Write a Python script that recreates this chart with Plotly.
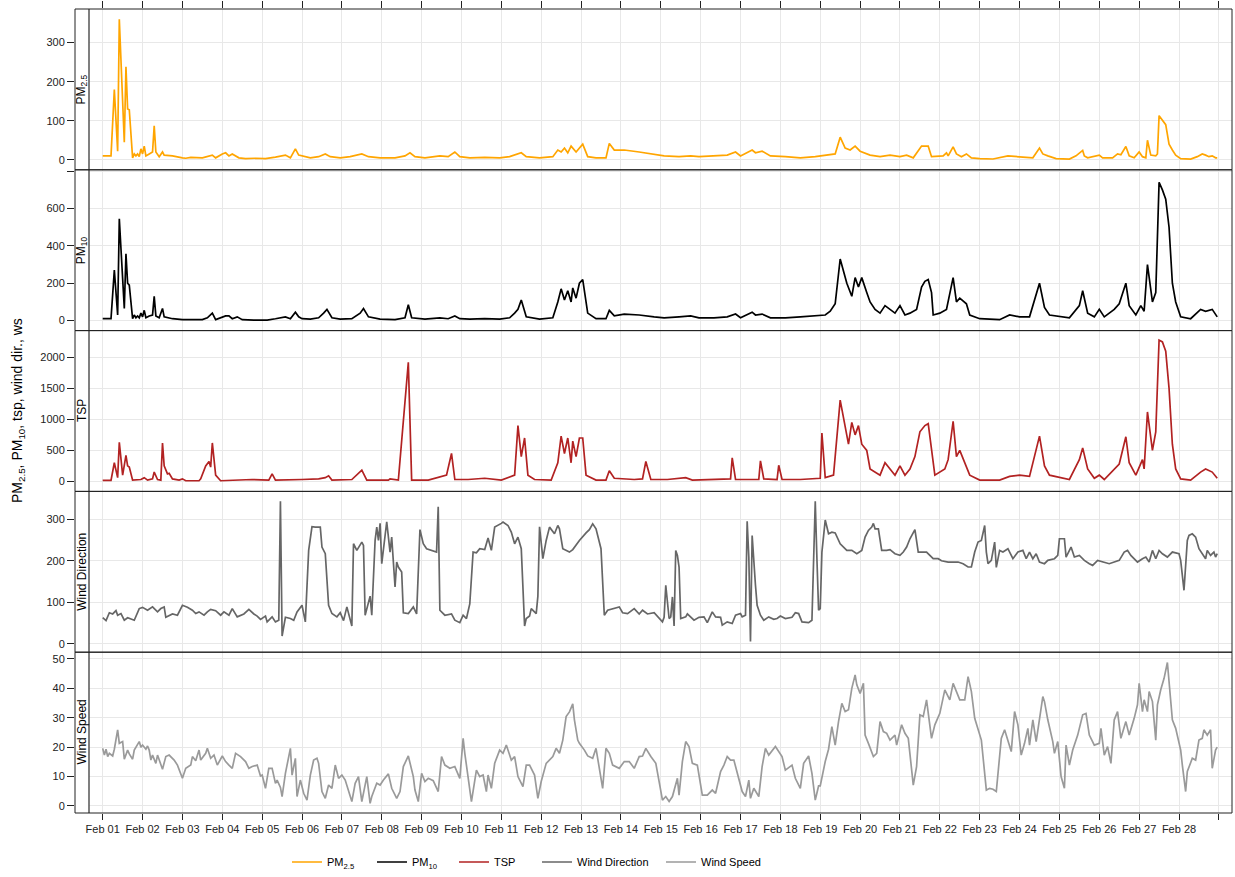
import pandas as pd
import plotly.graph_objects as go
from plotly.subplots import make_subplots

# ---------------- data: [hour since 2019-02-01 00:00, value] ----------------
pm25_obs = [[0,10],[5,10],[7,180],[9,22],[10,360],[13,45],[14,238],[15,130],[16,128],[18,5],[19,15],[20,10],[21,15],[22,8],[23,28],[24,15],[25,35],[26,10],[28,15],[30,20],[31,87],[32,20],[34,8],[36,20],[37,12],[42,10],[48,5],[50,4],[53,6],[56,5],[60,5],[66,12],[68,5],[72,15],[74,18],[76,10],[78,15],[82,5],[86,3],[92,4],[98,3],[104,7],[110,12],[113,5],[116,28],[118,12],
[120,10],[125,5],[130,8],[134,15],[137,8],[143,5],[149,8],[156,15],[160,8],[167,5],[176,5],[182,10],[185,18],[188,8],[194,5],[203,10],[208,8],[212,20],[215,8],[221,5],[230,6],[239,5],[245,8],[252,18],[255,8],[263,5],[271,8],[274,25],[276,20],[278,30],[280,18],[282,35],[285,20],[287,30],[289,40],[292,8],[297,5],[303,5],[305,42],[308,25],[314,25],[323,20],[332,15],[338,10],[347,8],[354,10],[359,8],[368,10],[376,12],[381,20],[384,10],[391,25],[393,18],[397,22],[402,10],[411,8],[420,5],[429,8],[435,12],[441,15],[444,58],[447,30],[450,25],[453,35],[456,22],[462,12],[468,8],[474,12],[480,8],
[484,12],[488,5],[493,35],[497,35],[499,8],[506,10],[508,18],[509,10],[512,33],[514,15],[517,8],[520,15],[523,5],[528,3],[536,2],[545,10],[551,8],[560,5],[564,30],[566,15],[569,10],[574,3],[582,2],[586,10],[590,24],[591,10],[593,5],[600,12],[602,5],[608,5],[611,15],[613,13],[616,34],[618,10],[621,5],[624,20],[626,8],[628,5],[629,50],[631,12],[634,10],[635,15],[636,113],[638,100],[640,90],[641,65],[642,40],[644,25],[646,12],[649,3],[655,2],[659,8],[662,15],[664,12],[666,8],[668,10],[670,5],[671,5]]

pm10_obs = [[0,10],[5,10],[7,270],[9,30],[10,545],[13,65],[14,358],[15,200],[16,190],[18,10],[19,30],[20,15],[21,25],[22,15],[23,40],[24,20],[25,55],[26,15],[28,25],[30,30],[31,130],[32,25],[34,15],[36,65],[37,20],[42,10],[48,5],[60,5],[63,15],[66,40],[68,5],[74,25],[76,25],[78,10],[81,20],[84,5],[91,3],[99,3],[104,10],[110,20],[113,10],[116,45],[118,20],
[120,10],[125,8],[130,15],[133,40],[135,60],[138,15],[143,8],[150,10],[155,40],[157,65],[160,20],[167,8],[176,5],[182,15],[184,85],[186,15],[194,8],[203,15],[208,10],[212,25],[215,10],[221,8],[230,10],[239,8],[245,15],[248,40],[250,60],[252,110],[255,20],[263,8],[271,15],[274,100],[276,170],[278,110],[280,160],[282,100],[283,175],[285,120],[287,200],[289,220],[292,40],[297,10],[303,10],[305,55],[308,25],[314,35],[323,30],[332,20],[338,15],[347,20],[354,25],[359,15],[368,15],[376,20],[381,35],[384,15],[391,45],[393,30],[397,35],[402,15],[411,15],[420,20],[429,25],[435,30],[438,50],[441,90],[444,330],[448,200],[451,130],[453,230],[455,180],[457,230],[460,150],[462,100],[465,60],[468,40],[471,80],[474,60],[477,40],[480,80],[483,30],[486,40],[490,60],[493,180],[495,210],[497,220],[499,150],[500,30],[504,40],[508,60],[512,230],[514,100],[516,120],[520,90],[522,30],[528,10],[540,5],[546,30],[552,20],[558,20],[564,200],[567,70],[570,30],[582,15],[588,80],[590,160],[593,40],[597,20],[600,60],[603,20],[609,60],[612,90],[616,200],[618,80],[622,30],[625,80],[627,50],[629,300],[632,100],[634,150],[636,740],[638,700],[640,650],[642,500],[644,200],[646,100],[649,20],[655,10],[661,60],[664,50],[668,60],[671,20]]

tsp_obs = [[0,15],[5,15],[7,300],[9,60],[10,630],[12,100],[14,420],[15,250],[16,230],[18,20],[23,30],[25,60],[27,20],[30,40],[31,150],[33,30],[35,20],[36,620],[37,250],[39,120],[40,130],[42,40],[46,20],[48,40],[50,10],[58,10],[59,40],[62,250],[64,320],[65,230],[66,620],[68,100],[71,10],[80,20],[90,30],[100,20],[102,120],[104,20],[115,20],[120,30],[130,40],[134,60],[136,90],[138,20],[150,30],[156,180],[159,20],[172,20],[173,40],[178,20],[184,1920],[186,20],[196,20],[207,100],[210,450],[212,30],[220,30],[230,50],[240,20],[248,100],[250,900],[252,400],[254,700],[256,100],[260,30],[270,20],[274,300],[276,730],[278,450],[280,700],[282,300],[283,650],[285,400],[287,700],[289,700],[291,100],[297,20],[303,20],[305,170],[308,50],[320,30],[325,40],[327,320],[330,30],[340,30],[351,60],[355,20],[370,30],[378,40],[379,380],[381,30],[395,30],[396,330],[398,40],[406,30],[407,260],[409,30],[420,30],[432,50],[433,780],[435,60],[440,100],[444,1310],[449,600],[451,950],[453,750],[455,900],[457,600],[460,500],[462,200],[468,100],[471,300],[474,200],[477,100],[480,250],[483,100],[486,200],[489,400],[492,800],[495,900],[497,930],[499,500],[501,100],[507,200],[509,350],[512,970],[514,400],[516,500],[519,300],[522,100],[528,20],[540,20],[546,80],[552,100],[558,80],[564,730],[567,250],[570,100],[582,30],[588,350],[590,540],[593,200],[597,50],[600,100],[603,30],[609,200],[612,280],[616,720],[618,300],[622,100],[626,350],[627,200],[629,1120],[632,500],[634,800],[636,2280],[638,2250],[640,2100],[642,1500],[644,600],[646,200],[649,40],[655,20],[661,150],[664,200],[668,150],[671,50]]

wd_obs = [[0,63],[2,56],[4,75],[6,72],[8,80],[9,69],[11,73],[13,57],[15,63],[19,57],[22,85],[24,88],[27,81],[30,89],[33,77],[35,85],[37,89],[38,64],[42,72],[45,69],[48,93],[51,88],[54,81],[56,73],[58,77],[61,69],[63,77],[65,83],[68,80],[71,69],[73,77],[76,69],[78,85],[81,65],[85,72],[88,83],[91,72],[93,67],[95,59],[98,67],[99,53],[102,65],[104,53],[106,57],[107,343],[108,19],[110,64],[113,61],[115,57],[117,77],[120,93],[122,53],[124,225],[126,282],[128,281],[131,281],[132,233],[134,217],[136,93],[138,73],[141,65],[143,75],[145,56],[147,89],[150,43],[151,241],[153,225],[156,245],[157,237],[158,69],[161,115],[162,69],[164,249],[165,281],[166,249],[167,290],[168,193],[170,261],[171,294],[173,221],[174,257],[176,137],[177,197],[178,185],[180,173],[181,75],[184,73],[187,89],[189,72],[191,275],[193,241],[195,229],[198,225],[201,221],[202,330],[203,81],[206,69],[210,72],[212,57],[215,51],[217,69],[219,61],[221,96],[223,221],[225,219],[227,229],[230,227],[232,255],[234,225],[236,281],[240,290],[241,293],[244,285],[246,269],[248,241],[250,257],[252,229],[254,43],[255,61],[257,67],[258,85],[261,73],[262,115],[263,282],[265,205],[267,249],[269,281],[272,265],[274,285],[275,277],[277,229],[281,221],[283,227],[287,249],[291,267],[293,275],[295,289],[297,277],[300,229],[302,69],[304,81],[307,85],[311,89],[313,75],[316,73],[320,85],[323,72],[325,81],[328,72],[332,75],[335,61],[337,53],[338,64],[339,141],[341,61],[342,65],[343,113],[344,43],[345,225],[346,213],[347,185],[348,61],[351,65],[352,72],[356,57],[359,64],[362,65],[364,51],[367,77],[369,65],[372,64],[373,45],[376,53],[379,49],[381,69],[384,73],[385,65],[387,69],[388,295],[389,209],[390,6],[391,261],[393,141],[394,93],[396,69],[398,57],[401,65],[404,59],[406,61],[408,67],[411,61],[415,64],[417,75],[419,73],[421,53],[425,51],[427,57],[429,343],[430,205],[431,81],[432,85],[433,221],[435,298],[437,265],[439,269],[441,267],[444,241],[448,225],[451,225],[454,217],[457,225],[459,257],[461,273],[463,281],[464,290],[465,277],[467,277],[469,225],[472,225],[474,227],[477,217],[480,213],[482,221],[484,233],[486,253],[489,275],[491,221],[493,221],[496,221],[500,205],[503,205],[505,200],[509,197],[512,197],[515,197],[518,193],[521,185],[523,185],[525,221],[527,245],[529,249],[531,285],[532,221],[533,193],[535,201],[537,245],[538,184],[540,225],[542,221],[545,229],[548,205],[551,221],[554,225],[556,205],[558,221],[560,205],[562,217],[564,197],[567,193],[569,201],[573,205],[575,213],[576,253],[579,253],[580,209],[583,233],[585,209],[588,213],[591,201],[594,193],[596,189],[599,201],[602,197],[606,193],[609,197],[612,201],[615,221],[617,225],[619,213],[621,205],[623,197],[626,205],[628,209],[630,197],[632,225],[634,205],[636,225],[638,217],[641,209],[644,221],[648,217],[649,201],[651,129],[653,249],[654,261],[656,265],[658,257],[660,229],[662,217],[664,205],[665,225],[667,213],[669,221],[670,209],[671,217]]

ws_obs = [[0,19.6],[1,17.3],[2,19.3],[3,16.8],[4,17.9],[6,17],[7,19.3],[9,25.9],[10,21.3],[12,21.9],[13,15.9],[15,19],[16,17.7],[18,15.9],[19,19],[22,21.9],[23,20],[24,20.7],[26,19.3],[27,20.4],[28,19],[29,15.6],[30,17.3],[32,14.5],[33,17.3],[35,14.5],[36,12.5],[38,16.8],[40,17.3],[43,15.6],[45,13.9],[48,9.4],[50,12.8],[53,13.9],[54,16.8],[56,15.4],[58,19],[59,15.6],[62,17.9],[63,19.6],[65,16.2],[67,17.3],[69,13.9],[72,17],[74,15.1],[76,13.9],[78,12.8],[80,17.9],[83,16.8],[86,15.1],[88,12.8],[90,13.4],[93,13.9],[95,10.2],[96,10.5],[98,6],[100,12.8],[102,12.8],[104,7.7],[105,8.8],[107,6.3],[108,3.2],[110,11.1],[113,19.6],[114,10.5],[116,16.2],[117,3.2],[119,8.8],[121,4.3],[123,2],[125,10.5],[127,15.6],[129,16.2],[130,14.5],[132,4.9],[134,2.6],[136,7.1],[138,6],[140,13.9],[142,9.4],[144,10.5],[146,8.8],[150,1.5],[152,7.7],[154,10],[156,1.5],[159,10],[161,0.9],[162,3.2],[165,7.7],[167,7.1],[169,8.8],[172,10.9],[174,6],[177,2.6],[179,4.9],[181,13.4],[184,17],[187,10],[188,5.4],[190,1.5],[192,11.1],[194,8.3],[196,9.4],[199,8.6],[202,4.9],[204,16.8],[206,13.9],[209,12.8],[212,13.4],[215,9.4],[217,23],[218,17.9],[222,1.5],[225,12.2],[227,10],[229,10.5],[231,4.9],[232,10.5],[234,6],[236,14.5],[239,19],[241,17.9],[243,20.7],[246,15.6],[248,16.8],[250,10],[253,6.6],[255,13.9],[257,13.9],[260,10.5],[262,2.6],[264,8.3],[267,14.5],[271,16.8],[273,19.6],[275,17.9],[277,22.4],[279,30.4],[281,32],[283,34.7],[284,29.3],[286,22.4],[287,21.3],[290,19],[292,17],[295,16.2],[297,19.6],[300,10],[301,6],[303,19.6],[305,17.9],[307,13.9],[311,12.8],[314,15.1],[317,15.1],[320,12.8],[323,16.8],[325,17],[327,19.6],[330,16.8],[333,14.5],[335,8.3],[337,2],[339,3.2],[341,1.5],[343,3.2],[346,9.4],[347,3.7],[349,15.1],[351,21.9],[353,20.2],[355,14.5],[358,13.9],[361,3.7],[364,3.7],[367,5.4],[369,4.3],[372,11.7],[374,13.9],[376,16.8],[378,15.6],[380,15.6],[383,9.4],[385,4.9],[387,3.2],[389,8.8],[390,2.6],[392,6],[395,3.2],[397,13.4],[399,19.6],[401,17.3],[405,20.2],[407,18.5],[409,16.8],[411,12.2],[415,13.9],[417,9.4],[420,6],[422,14.5],[425,17],[427,11.1],[429,2],[431,6.8],[432,6.8],[435,15.1],[437,19.3],[439,27],[441,20.7],[443,28.7],[445,34.9],[447,32.1],[449,32.7],[451,40],[453,44.6],[454,41.2],[456,38.3],[458,41.7],[459,24.1],[461,21.3],[464,16.8],[466,17.9],[468,28.7],[470,25.3],[472,24.7],[474,22.4],[477,24.1],[478,20.7],[481,27.6],[483,24.7],[485,23],[488,7.1],[490,13.4],[492,31],[494,30.4],[496,36.1],[499,23],[501,27.6],[504,31.5],[507,39.5],[510,36.1],[512,41.7],[514,38.9],[516,36.1],[519,36.1],[521,44],[523,38.9],[525,29.8],[529,22.4],[532,5.4],[534,6],[536,5.7],[538,4.9],[541,23],[543,25.9],[545,22.4],[547,18.5],[549,32.1],[551,27.6],[553,17.3],[555,21.3],[557,26.4],[558,20.7],[560,29.3],[562,21.9],[566,37.2],[567,35.5],[569,29.3],[572,21.9],[573,17.9],[575,21.9],[577,10],[579,6],[580,20.7],[582,13.9],[584,19],[587,24.1],[590,31],[592,31.5],[594,24.1],[597,20.7],[600,21.3],[601,26.4],[603,17.3],[605,20.2],[607,14.5],[609,29.3],[611,32.1],[613,23],[616,28.7],[618,24.1],[621,29.8],[623,34.4],[624,41.7],[626,32.1],[627,36.1],[629,32.1],[630,38.9],[632,35.5],[634,22.4],[635,34.4],[637,39.5],[639,43.4],[641,48.8],[642,41.7],[644,29.3],[646,26.4],[649,19],[650,13.9],[652,4.9],[653,11.7],[656,16.2],[658,15.6],[660,22.4],[662,23],[663,25.9],[665,24.1],[667,25.9],[668,12.8],[670,19],[671,20]]

series_names = ["PM<sub>2.5</sub>", "PM<sub>10</sub>", "TSP", "Wind Direction", "Wind Speed"]
series_obs = [pm25_obs, pm10_obs, tsp_obs, wd_obs, ws_obs]
series_colors = ["#FFA500", "#000000", "#B22222", "#666666", "#9A9A9A"]
y_ranges = [[-25.6, 386], [-53.6, 807.5], [-162, 2433], [-20, 367], [-2.4, 52.3]]
y_ticks = [[0, 100, 200, 300], [0, 200, 400, 600, 800], [0, 500, 1000, 1500, 2000],
           [0, 100, 200, 300], [0, 10, 20, 30, 40, 50]]
y_ticktext = [["0", "100", "200", "300"], ["0", "200", "400", "600", ""],
              ["0", "500", "1000", "1500", "2000"], ["0", "100", "200", "300"],
              ["0", "10", "20", "30", "40", "50"]]
y_title = "PM<sub>2.5</sub>, PM<sub>10</sub>, tsp, wind dir., ws"

base = pd.Timestamp("2019-02-01 00:00")
x_range = [base - pd.Timedelta(hours=16.68), base + pd.Timedelta(hours=679.9)]

FONT = "Liberation Sans, Arial, sans-serif"
W, H = 1235, 877
ML, MR, MT, MB = 75, 3, 9, 64
PW = W - ML - MR
PH = H - MT - MB

fig = make_subplots(rows=5, cols=1, vertical_spacing=0)

legend_px = [287, 372, 454, 537, 661]
for i, (name, obs, col) in enumerate(zip(series_names, series_obs, series_colors)):
    t = [base + pd.Timedelta(hours=h) for h, _ in obs]
    v = [val for _, val in obs]
    lg = "legend" if i == 0 else f"legend{i+1}"
    fig.add_trace(go.Scatter(x=t, y=v, mode="lines", name=name,
                             line=dict(color=col, width=1.7), legend=lg),
                  row=i + 1, col=1)

for i in range(5):
    n = i + 1
    xa = "xaxis" if n == 1 else f"xaxis{n}"
    ya = "yaxis" if n == 1 else f"yaxis{n}"
    xcfg = dict(type="date", range=x_range, showgrid=True, gridcolor="#E8E8E8", gridwidth=1,
                tick0=base, dtick=86400000, zeroline=False, showline=False,
                tickformat="%b %d", tickfont=dict(family=FONT, size=11, color="#222222"))
    if n == 1:
        xcfg.update(side="top", ticks="outside", ticklen=7, tickcolor="#222222",
                    showticklabels=False)
    elif n == 5:
        xcfg.update(ticks="outside", ticklen=6, tickcolor="#222222", showticklabels=True)
    else:
        xcfg.update(ticks="", showticklabels=False)
    fig.layout[xa].update(xcfg)
    fig.layout[ya].update(dict(range=y_ranges[i], tickmode="array", tickvals=y_ticks[i],
                               ticktext=y_ticktext[i], ticks="outside", ticklen=7,
                               tickcolor="#222222", showgrid=True, gridcolor="#E8E8E8",
                               gridwidth=1, zeroline=False, showline=False,
                               tickfont=dict(family=FONT, size=11, color="#222222")))

strip_w = 14 / PW
shapes = [dict(type="rect", xref="paper", yref="paper", x0=0, x1=strip_w, y0=0, y1=1,
               fillcolor="white", line=dict(width=0), layer="above"),
          dict(type="line", xref="paper", yref="paper", x0=strip_w, x1=strip_w, y0=0, y1=1,
               line=dict(color="#555555", width=1.5), layer="above")]
annotations = []
for i in range(5):
    n = i + 1
    ydom = "y domain" if n == 1 else f"y{n} domain"
    shapes.append(dict(type="rect", xref="paper", yref=ydom, x0=0, x1=1, y0=0, y1=1,
                       line=dict(color="#222222", width=1), fillcolor="rgba(0,0,0,0)",
                       layer="above"))
    annotations.append(dict(xref="paper", yref=ydom, x=strip_w / 2, y=0.5,
                            text=series_names[i], textangle=-90, showarrow=False,
                            xanchor="center", yanchor="middle",
                            font=dict(family=FONT, size=12, color="#000000")))
annotations.append(dict(xref="paper", yref="paper", x=(18 - ML) / PW, y=0.5, text=y_title,
                        textangle=-90, showarrow=False, xanchor="center", yanchor="middle",
                        font=dict(family=FONT, size=14, color="#000000")))

legend_y = (PH - (862 - MT)) / PH
layout_legends = {}
for i, px in enumerate(legend_px):
    key = "legend" if i == 0 else f"legend{i+1}"
    layout_legends[key] = dict(x=(px - ML) / PW, y=legend_y, xanchor="left", yanchor="middle",
                               orientation="h", bgcolor="rgba(0,0,0,0)", borderwidth=0,
                               font=dict(family=FONT, size=11, color="#000000"))

fig.update_layout(width=W, height=H,
                  margin=dict(l=ML, r=MR, t=MT, b=MB, autoexpand=False),
                  paper_bgcolor="white", plot_bgcolor="white",
                  font=dict(family=FONT, size=11, color="#000000"),
                  shapes=shapes, annotations=annotations, showlegend=True,
                  **layout_legends)

fig.write_html("out.html")
